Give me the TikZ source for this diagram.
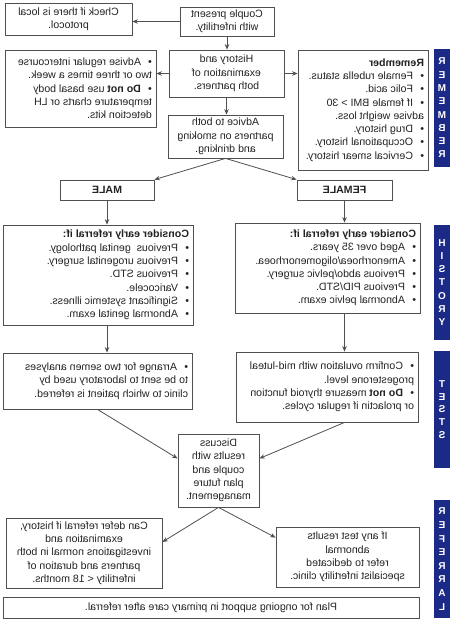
\documentclass[tikz,border=0pt]{standalone}
\usepackage{fontspec}
\setmainfont{Liberation Sans}
\usepackage{graphicx}
\usetikzlibrary{arrows.meta,calc}
\definecolor{barblue}{RGB}{28,42,135}
\definecolor{ln}{RGB}{80,80,80}
\definecolor{tx}{RGB}{35,35,35}
\newcommand{\mirtext}[2]{\reflectbox{\parbox{#1}{\fontsize{10.6}{13.3}\selectfont #2}}}
\newcommand{\bitem}[1]{\par\noindent\hangindent=11pt\hangafter=1\makebox[11pt][l]{\textbullet}#1}
\newcommand{\bartext}[2]{\reflectbox{\parbox{16pt}{\centering\fontsize{10}{#1}\selectfont\bfseries #2}}}
\tikzset{
  box/.style={draw=ln, line width=0.8pt, fill=white, inner sep=0pt, text=tx},
  sidebar/.style={fill=barblue, inner sep=0pt, minimum width=16pt, text=white},
  arr/.style={draw=ln, line width=0.8pt, -{Stealth[length=5.5pt,width=4.5pt]}},
}
\begin{document}
\begin{tikzpicture}[x=1pt,y=-1pt]
\useasboundingbox (0,0) rectangle (452,620);
\fill[white] (0,0) rectangle (452,620);

% top row
\node[box, minimum width=94pt, minimum height=29pt] (couple) at (227,21.5)
  {\mirtext{86pt}{\centering Couple present\\with infertility.}};
\node[box, minimum width=127pt, minimum height=32pt] (check) at (68.5,19)
  {\mirtext{119pt}{\centering Check if there is local\\protocol.}};
\node[box, minimum width=115pt, minimum height=47pt] (history) at (226.5,73.5)
  {\mirtext{107pt}{\centering History and\\examination of\\both partners.}};
\node[box, minimum width=151pt, minimum height=77pt] (advise) at (80.5,88.5)
  {\mirtext{143pt}{\raggedright
   \bitem{Advise regular intercourse\\two or three times a week.}
   \bitem{\textbf{Do not} use basal body\\temperature charts or LH\\detection kits.}}};
\node[box, minimum width=115pt, minimum height=43pt] (advice) at (225.5,136.5)
  {\mirtext{107pt}{\centering Advice to both\\partners on smoking\\and drinking.}};
\node[box, minimum width=130pt, minimum height=120pt] (remember) at (363,110)
  {\mirtext{122pt}{\raggedright\textbf{Remember}
   \bitem{Female rubella status.}
   \bitem{Folic acid.}
   \bitem{If female BMI > 30\\advise weight loss.}
   \bitem{Drug history.}
   \bitem{Occupational history.}
   \bitem{Cervical smear history.}}};

% male / female
\node[box, minimum width=94pt, minimum height=20pt] (male) at (107,190)
  {\mirtext{86pt}{\centering\textbf{MALE}}};
\node[box, minimum width=95pt, minimum height=20pt] (female) at (344.5,190)
  {\mirtext{87pt}{\centering\textbf{FEMALE}}};

\node[box, minimum width=190pt, minimum height=100pt] (malecons) at (98,275)
  {\mirtext{182pt}{\raggedright\textbf{Consider early referral if:}
   \bitem{Previous~ genital pathology.}
   \bitem{Previous urogenital surgery.}
   \bitem{Previous STD.}
   \bitem{Varicocele.}
   \bitem{Significant systemic illness.}
   \bitem{Abnormal genital exam.}}};
\node[box, minimum width=185pt, minimum height=90pt] (femcons) at (327.5,268)
  {\mirtext{177pt}{\raggedright\textbf{Consider early referral if:}
   \bitem{Aged over 35 years.}
   \bitem{Amenorrhoea/oligomenorrhoea.}
   \bitem{Previous abdo/pelvic surgery.}
   \bitem{Previous PID/STD.}
   \bitem{Abnormal pelvic exam.}}};

% tests
\node[box, minimum width=189pt, minimum height=56pt] (semen) at (97.5,381)
  {\mirtext{181pt}{\raggedright
   \bitem{Arrange for two semen analyses\\to be sent to laboratory used by\\clinic to which patient is referred.}}};
\node[box, minimum width=182pt, minimum height=70pt] (femtest) at (327,387)
  {\mirtext{174pt}{\raggedright
   \bitem{Confirm ovulation with mid-luteal\\progesterone level.}
   \bitem{\textbf{Do not} measure thyroid function\\or prolactin if regular cycles.}}};

% discuss and referral
\node[box, minimum width=81pt, minimum height=73pt] (discuss) at (218.5,470.5)
  {\mirtext{75pt}{\centering Discuss\\results with\\couple and\\plan future\\management.}};
\node[box, minimum width=156pt, minimum height=70pt] (defer) at (84,553)
  {\mirtext{150pt}{\centering Can defer referral if history,\\examination and\\investigations normal in both\\partners and duration of\\infertility < 18 months.}};
\node[box, minimum width=143pt, minimum height=60pt] (ifany) at (347.5,557)
  {\mirtext{137pt}{\centering If any test results\\abnormal\\refer to dedicated\\specialist infertility clinic.}};
\node[box, minimum width=416pt, minimum height=21pt] (plan) at (211,607.5)
  {\mirtext{408pt}{\centering Plan for ongoing support in primary care after referral.}};

% side bars
\node[sidebar, minimum height=118pt] (rbar) at (442,108)
  {\bartext{13.3}{R\\E\\M\\E\\M\\B\\E\\R}};
\node[sidebar, minimum height=115pt] (hbar) at (442,282.5)
  {\bartext{13.3}{H\\I\\S\\T\\O\\R\\Y}};
\node[sidebar, minimum height=117pt] (tbar) at (442,409.5)
  {\bartext{12.6}{T\\E\\S\\T\\S}};
\node[sidebar, minimum height=118pt] (fbar) at (442,559)
  {\bartext{13.6}{R\\E\\F\\E\\R\\R\\A\\L}};

% connectors
\draw[arr] (couple.west) -- (couple.west -| check.east);
\draw[arr] (couple.south) -- (couple.south |- history.north);
\draw[arr] (history.west) -- (history.west -| advise.east);
\draw[arr] (history.east) -- (history.east -| remember.west);
\draw[arr] (history.south) -- (history.south |- advice.north);
\draw[arr] (advice.south) -- (male.north east);
\draw[arr] (advice.south) -- (female.north west);
\draw[arr] (male.south) -- (male.south |- malecons.north);
\draw[arr] (female.south) -- (female.south |- femcons.north);
\draw[arr] (male.south |- malecons.south) -- (male.south |- semen.north);
\draw[arr] (female.south |- femcons.south) -- (female.south |- femtest.north);
\draw[arr] (semen.south) -- ($(discuss.west)+(0,-12)$);
\draw[arr] (female.south |- femtest.south) -- ($(discuss.east)+(0,-12)$);
\draw[arr] (discuss.south) -- ($(defer.east)+(0,-11)$);
\draw[arr] (discuss.south) -- ($(ifany.north west)+(0,11)$);
\end{tikzpicture}
\end{document}
